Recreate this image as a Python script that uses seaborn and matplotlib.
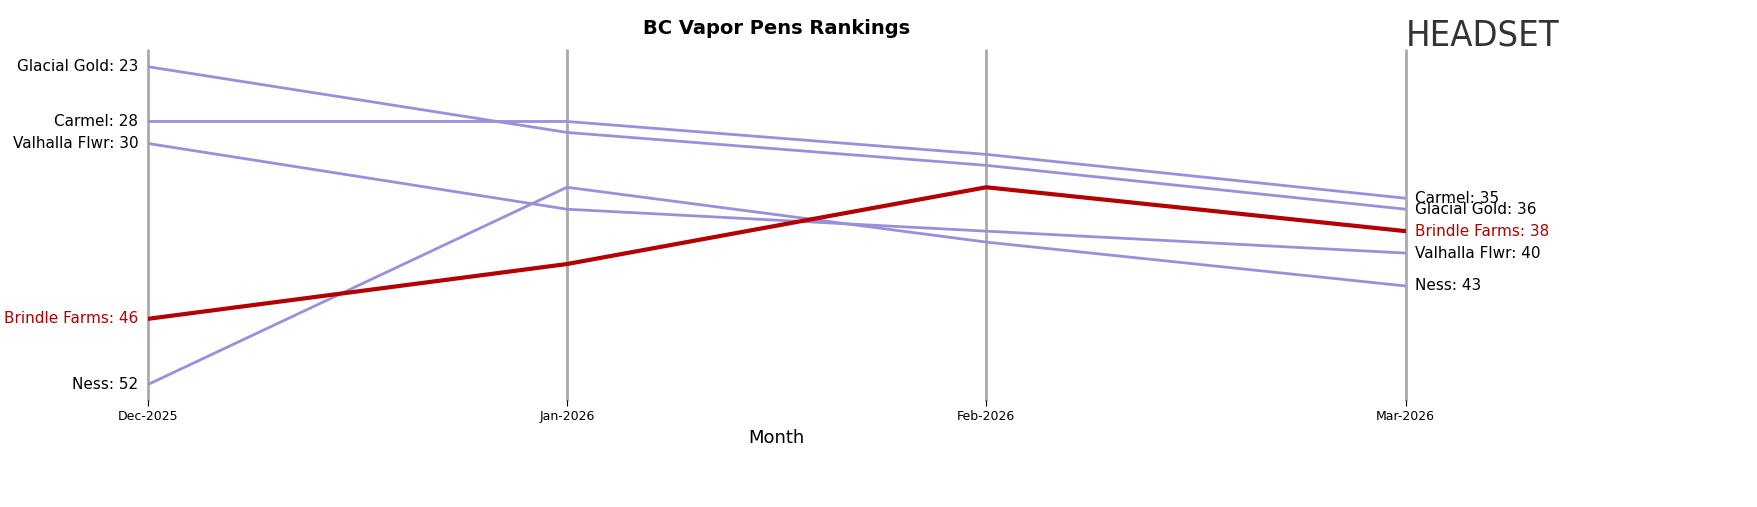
import matplotlib
matplotlib.use("Agg")
import matplotlib.pyplot as plt
import seaborn as sns
import pandas as pd

months = ["Dec-2025", "Jan-2026", "Feb-2026", "Mar-2026"]
brands = ["Glacial Gold", "Carmel", "Valhalla Flwr", "Brindle Farms", "Ness"]
glacial = [23, 29, 32, 36]
carmel = [28, 28, 31, 35]
valhalla = [30, 36, 38, 40]
brindle = [46, 41, 34, 38]
ness = [52, 34, 39, 43]
ranks = [glacial, carmel, valhalla, brindle, ness]

rows = []
for b, r in zip(brands, ranks):
    for i, m in enumerate(months):
        rows.append({"Brand": b, "Month": i, "Rank": r[i]})
df = pd.DataFrame(rows)

sns.set_style("white")
plt.rcParams["text.color"] = "black"
plt.rcParams["axes.labelcolor"] = "black"
plt.rcParams["xtick.color"] = "black"
fig = plt.figure(figsize=(17.57, 5.07), dpi=100)
ax = fig.add_axes([0.084, 0.211, 0.716, 0.690])
palette = {b: ("#b30000" if b == "Brindle Farms" else "#9b8fdb") for b in brands}
for i in range(len(months)):
    ax.axvline(i, color="#aaaaaa", lw=2, zorder=0, clip_on=False)
others = df[df.Brand != "Brindle Farms"]
sns.lineplot(data=others, x="Month", y="Rank", hue="Brand", palette=palette, lw=2, legend=False, ax=ax)
sns.lineplot(data=df[df.Brand == "Brindle Farms"], x="Month", y="Rank", color="#b30000", lw=3, legend=False, ax=ax)
ax.set_ylim(53.4, 21.5)
ax.set_xlim(0, 3)
ax.set_yticks([])
ax.set_xticks(range(len(months)))
ax.set_xticklabels(months, fontsize=9)
ax.tick_params(axis="x", length=4, bottom=True)
ax.set_xlabel("Month", fontsize=13)
ax.set_ylabel("")
for s in ax.spines.values():
    s.set_visible(False)
for b, r in zip(brands, ranks):
    c = "#b30000" if b == "Brindle Farms" else "black"
    ax.text(-0.022, r[0], f"{b}: {r[0]}", ha="right", va="center", fontsize=11, color=c)
    ax.text(3.022, r[-1], f"{b}: {r[-1]}", ha="left", va="center", fontsize=11, color=c)
ax.set_title("BC Vapor Pens Rankings", fontsize=14, fontweight="bold", pad=12)
fig.text(0.80, 0.93, "HEADSET", fontsize=26, color="#333333", va="center", ha="left", family="DejaVu Sans", stretch="condensed")
fig.savefig("out.png")
